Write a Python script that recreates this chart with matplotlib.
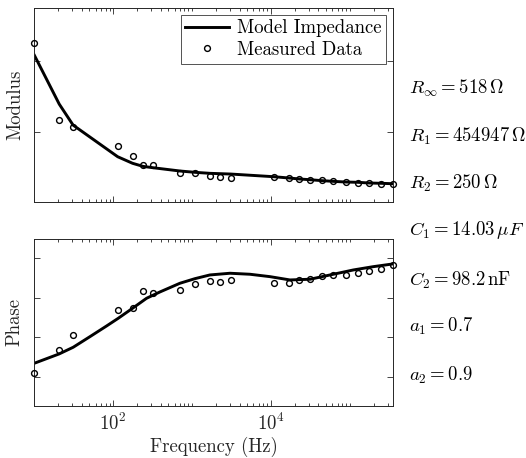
import matplotlib
matplotlib.use("Agg")
import matplotlib.pyplot as plt
from matplotlib.ticker import FixedLocator, LogLocator, NullFormatter, LogFormatterSciNotation

plt.rcParams['font.family'] = 'serif'
plt.rcParams['font.serif'] = ['cmr10', 'DejaVu Serif']
plt.rcParams['mathtext.fontset'] = 'cm'
plt.rcParams['axes.formatter.use_mathtext'] = True
plt.rcParams['axes.unicode_minus'] = False

# ---- data ----
freq = [10, 20.7, 31, 114, 176, 240, 322, 701, 1097, 1683, 2276, 3080,
        10900, 16900, 22900, 30900, 44700, 60500, 88500, 125700, 176500,
        248000, 349000]
mod_meas = [2.257, 1.164, 1.065, 0.796, 0.655, 0.527, 0.527, 0.419, 0.410,
            0.372, 0.358, 0.348, 0.354, 0.339, 0.330, 0.315, 0.311, 0.297,
            0.287, 0.277, 0.269, 0.259, 0.255]
mod_model = [2.083, 1.390, 1.093, 0.645, 0.552, 0.508, 0.489, 0.443, 0.424,
             0.410, 0.405, 0.400, 0.362, 0.344, 0.330, 0.320, 0.306, 0.297,
             0.287, 0.283, 0.273, 0.269, 0.263]
phase_meas = [-78.27, -66.46, -59.02, -46.20, -45.03, -36.42, -37.43, -36.06,
              -33.17, -31.50, -31.86, -31.15, -32.67, -32.52, -30.84, -30.49,
              -28.97, -28.61, -28.31, -27.30, -26.59, -25.27, -23.55]
freq_fit = [10, 20.6, 31.1, 50.7, 82.5, 116, 176, 265, 391, 701, 1087, 1683,
            3020, 5420, 9710, 17400, 31300, 56100, 110700, 198000, 349000]
phase_model = [-73.20, -68.49, -65.10, -59.73, -54.30, -50.40, -45.34, -40.27,
               -37.08, -32.67, -30.34, -28.46, -27.60, -28.11, -29.32, -30.99,
               -30.64, -28.46, -25.93, -24.26, -22.89]

mod_yticks = [1, 2]
phase_yticks = [-80, -60, -40, -20]
x_majors = [1e2, 1e4]

param_labels = [r'$R_\infty = 518\,\Omega$',
                r'$R_1 = 454947\,\Omega$',
                r'$R_2 = 250\,\Omega$',
                r'$C_1 = 14.03\,\mu F$',
                r'$C_2 = 98.2\,\mathrm{nF}$',
                r'$a_1 = 0.7$',
                r'$a_2 = 0.9$']
param_y_px = [88.3, 136, 183.3, 230, 280, 326.7, 375]

FS = 13.5
W, H = 526, 458
fig = plt.figure(figsize=(W / 100, H / 100), dpi=100)

ax1 = fig.add_axes([34.3 / W, 1 - 202.3 / H, (392.7 - 34.3) / W, (202.3 - 8) / H])
ax2 = fig.add_axes([34.3 / W, 1 - 405.7 / H, (392.7 - 34.3) / W, (405.7 - 239.3) / H])

edge = '#262626'
for ax in (ax1, ax2):
    ax.set_xscale('log')
    ax.set_xlim(10, 349000)
    ax.xaxis.set_major_locator(FixedLocator(x_majors))
    ax.xaxis.set_minor_locator(LogLocator(base=10, subs=[1, 2, 3, 4, 5, 6, 7, 8, 9], numticks=20))
    ax.xaxis.set_minor_formatter(NullFormatter())
    ax.tick_params(which='both', direction='in', top=True, right=True, colors=edge,
                   width=0.6)
    ax.tick_params(which='major', length=4)
    ax.tick_params(which='minor', length=2)
    for s in ax.spines.values():
        s.set_color(edge)
        s.set_linewidth(0.7)

ax1.plot(freq, mod_model, color='black', lw=2.1, label='Model Impedance', zorder=2)
ax1.plot(freq, mod_meas, ls='none', marker='o', ms=4.2, mfc='none', mec='black',
         mew=1.0, label='Measured Data', clip_on=False, zorder=3)
ax1.set_ylim(0, 2.75)
ax1.set_yticks(mod_yticks)
ax1.set_yticklabels([])
ax1.xaxis.set_major_formatter(NullFormatter())
ax1.set_ylabel('Modulus', fontsize=FS, color=edge, labelpad=4)
leg = ax1.legend(loc='upper right', fontsize=FS, frameon=True, fancybox=False,
                 borderaxespad=0.35, handlelength=2.3, handletextpad=0.45,
                 borderpad=0.25, labelspacing=0.2)
leg.get_frame().set_edgecolor(edge)
leg.get_frame().set_linewidth(0.7)

ax2.plot(freq_fit, phase_model, color='black', lw=2.1, zorder=2)
ax2.plot(freq, phase_meas, ls='none', marker='o', ms=4.2, mfc='none', mec='black',
         mew=1.0, clip_on=False, zorder=3)
ax2.set_ylim(-94.7, -10.4)
ax2.set_yticks(phase_yticks)
ax2.set_yticklabels([])
ax2.xaxis.set_major_formatter(LogFormatterSciNotation())
ax2.tick_params(axis='x', labelsize=FS, pad=5)
ax2.set_ylabel('Phase', fontsize=FS, color=edge, labelpad=4)
ax2.set_xlabel('Frequency (Hz)', fontsize=FS, color=edge, labelpad=2)

for lab, ypx in zip(param_labels, param_y_px):
    fig.text(409 / W, 1 - ypx / H, lab, fontsize=FS, ha='left', va='center', color='black')

fig.savefig('out.png', dpi=100)
